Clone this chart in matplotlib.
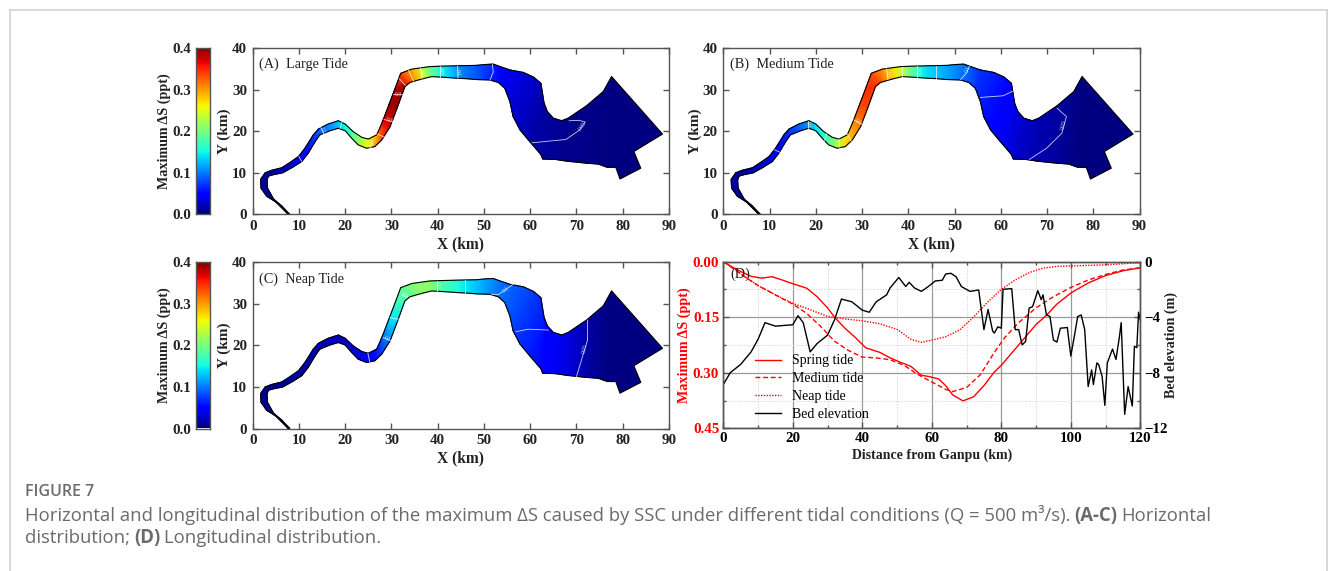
import numpy as np
import matplotlib
matplotlib.use("Agg")
import matplotlib.pyplot as plt
from matplotlib.lines import Line2D
from matplotlib.ticker import MultipleLocator

# cross sections along the river from the upstream tip, left bank and right bank (km)
left_x = [7.7, 5, 3, 1.8, 1.7, 2.7, 4.1, 6.3, 8.1, 9.9, 11.3, 13.1, 14.2, 16.3, 18.5, 20, 21.7, 23.6, 25, 26.8, 27.5,
          28.2, 29.5, 30.8, 32, 34.4, 36.3, 38.3, 40.5, 42.5, 44.1, 46.3, 48.4, 50.2, 52, 53.5, 55.6, 58.5, 60.7, 62.3,
          63, 63.7, 65, 66.8, 68.2, 72.2, 75.8, 77.6]
left_y = [0, 3, 4.4, 6.3, 8.4, 10, 10.6, 11.2, 12.5, 13.9, 15.9, 19.1, 20.5, 21.7, 22.5, 21.7, 19.9, 18.5, 18.1, 19.1,
          20.8, 22.7, 26.5, 30.3, 33.9, 34.9, 35.2, 35.5, 35.6, 35.65, 35.7, 35.75, 35.8, 36, 36.1, 35.5, 34.7, 34.1, 33,
          31.5, 26.7, 24.7, 23.1, 22.5, 23.1, 26.1, 29.5, 33.1]
right_x = [8, 6.3, 4.5, 3.2, 3.1, 3.4, 4.3, 6.5, 8.6, 10.6, 12, 13.5, 14.5, 16.7, 18.5, 20, 21.4, 22.8, 24.6, 26.4, 27.9,
           29.7, 31.3, 32.9, 34, 35.5, 37.2, 38.7, 40.5, 42.5, 44.4, 46.3, 48.4, 50, 51.3, 53.1, 54.5, 55.6, 56.3, 57.8,
           59.9, 62.3, 62.7, 65.5, 67.9, 72.2, 74.7, 76.7]
right_y = [0, 2, 3.7, 6.3, 8.3, 9.2, 9.5, 10, 11.3, 12.7, 14.7, 17.5, 19.1, 20.1, 20.7, 20.1, 18.3, 16.7, 15.9, 16.3,
           17.9, 21.1, 25.8, 30.7, 31.7, 32.2, 32.7, 33.1, 33, 32.85, 32.7, 32.6, 32.4, 32.35, 32.3, 31.7, 30.3, 27.1,
           23.5, 20.3, 17.5, 14.4, 13.3, 13.2, 12.8, 12.3, 12.1, 11.3]
# the sea end that the cross sections do not reach
sea_x = [88.6, 82.4, 83.9, 79.4, 78.5]
sea_y = [19.3, 15.1, 11.1, 8.5, 11.3]

# maximum dS at each cross section
ds_large = [.004, .006, .008, .01, .012, .014, .016, .02, .03, .045, .055, .07, .085, .105, .125, .15, .18, .22, .25,
            .29, .33, .365, .39, .385, .335, .29, .24, .19, .155, .13, .11, .095, .085, .075, .065, .05, .04, .032,
            .027, .022, .015, .012, .01, .008, .006, .004, .002, 0]
ds_medium = [.004, .005, .007, .009, .011, .013, .015, .018, .025, .035, .045, .06, .07, .09, .11, .14, .16, .19, .225,
             .27, .29, .31, .335, .345, .33, .3, .27, .24, .19, .155, .135, .125, .115, .105, .095, .085, .07, .062,
             .055, .05, .042, .032, .028, .022, .018, .012, .005, 0]
ds_neap = [.003, .004, .005, .006, .007, .008, .009, .01, .012, .014, .016, .018, .02, .022, .024, .026, .03, .035, .045,
           .055, .075, .1, .14, .17, .185, .2, .21, .205, .18, .165, .155, .14, .125, .115, .105, .095, .09, .082,
           .075, .068, .06, .05, .045, .04, .035, .015, .005, 0]

# contour lines: (label, x, y)
lines_large = [("0.05", [60.4, 67.7, 70.6, 71.9, 70.6, 68.4], [17.2, 18, 20.2, 22.2, 22.6, 22.5]),
               ("", [10, 10.6], [13.9, 12.7]), ("0.1", [14.7, 15.4], [20.9, 19.3]), ("", [19.3, 18.9], [22.2, 20.6]),
               ("0.2", [26, 25.4], [17.8, 16.1]), ("", [26.9, 28.6], [19.3, 18.5]), ("0.3", [28.4, 30.6], [22.8, 22.2]),
               ("0.3", [30.3, 32.6], [28.9, 28.9]), ("", [31.7, 33], [32.6, 31]), ("", [33.7, 34.8], [34.6, 32]),
               ("0.2", [36.3, 36.6], [35.2, 32.6]), ("0.2", [40.6, 40.6], [35.6, 33]), ("0.1", [44.3, 44.4], [35.7, 32.7]),
               ("", [51.8, 52, 51.3], [36.1, 34.2, 32.3])]
lines_medium = [("0.05", [72.2, 74.2, 73.2, 69.9, 66.2], [25.5, 23.5, 19.5, 15.9, 13.2]),
                ("", [55.6, 60.5, 62.6], [28.1, 28.5, 29.6]), ("0.1", [53.2, 52.6, 51.3], [35.6, 34, 32.4]),
                ("", [46.1, 46.1], [35.7, 32.6]), ("0.2", [41.9, 41.9], [35.6, 32.9]), ("", [38.7, 38.7], [35.5, 33.1]),
                ("0.3", [35.3, 35.6], [35, 32.4]), ("0.3", [28.2, 30.1], [22.7, 21.6]), ("", [26.8, 27.7], [19.3, 17.6]),
                ("", [25, 25.2], [18.1, 16]), ("", [22.4, 21.9], [19.4, 17.8]), ("0.1", [18.3, 18.3], [22.5, 20.7]),
                ("", [11.1, 12.3], [15.5, 14.9])]
lines_neap = [("0.05", [72.4, 72.4, 71.3, 70], [26.1, 21.3, 17.3, 12.5]), ("", [56.9, 59.6, 63.9], [23.3, 23.9, 23.7]),
              ("0.1", [56.4, 53.1, 51.6], [34.8, 32.2, 32.3]), ("", [46, 46], [35.7, 32.6]), ("0.2", [39.9, 39.9], [35.6, 33]),
              ("0.2", [32.2, 33.5], [32.1, 31.7]), ("", [29.7, 31.5], [26.7, 26.3]), ("0.1", [28.2, 30], [21.9, 21.1]),
              ("", [24.9, 25.3], [18.1, 16.1])]

# panel D
spring_x = [0, 2, 5, 8, 11, 14, 17, 20, 24, 27, 30, 32, 35, 38, 41, 45, 48, 51, 54, 57, 59, 62, 64, 66, 69, 72, 75, 78,
            80, 85, 90, 93, 96, 100, 105, 110, 115, 120]
spring_y = [0, .012, .027, .04, .045, .041, .05, .06, .072, .095, .125, .15, .18, .205, .233, .245, .26, .272, .283,
            .307, .31, .317, .335, .36, .376, .365, .335, .298, .28, .225, .17, .145, .115, .085, .058, .038, .025, .017]
medium_x = [0, 3, 6, 10, 15, 20, 24, 28, 32, 36, 40, 44, 48, 52, 56, 60, 64, 66, 70, 74, 78, 81, 85, 90, 95, 100, 105,
            110, 115, 120]
medium_y = [0, .02, .04, .065, .09, .115, .14, .175, .215, .24, .258, .26, .265, .28, .305, .325, .345, .351, .34, .305,
            .245, .205, .165, .125, .095, .07, .05, .035, .023, .017]
neap_x = [0, 3, 6, 10, 15, 20, 25, 30, 35, 40, 45, 50, 54, 57, 60, 64, 68, 72, 76, 80, 84, 88, 92, 96, 100, 110, 115, 120]
neap_y = [0, .018, .04, .065, .09, .113, .13, .148, .155, .16, .168, .183, .21, .218, .212, .203, .185, .15, .11, .075,
          .05, .03, .018, .013, .012, .009, .006, .003]
bed_x = [0, 2, 5, 8, 10, 12, 15, 20, 21.5, 23, 25, 27, 30, 32, 34, 37, 40, 42, 44, 47, 48, 50.5, 52.5, 53.5, 55, 57, 59,
         61, 63, 64, 65.5, 67, 68.5, 71, 73.5, 75, 76.2, 77.5, 78, 79, 80, 80.5, 83, 84, 85, 86, 87, 88, 89, 90.5, 91.5,
         92, 93, 94, 95, 96, 97, 99, 100, 101, 102, 103, 104, 105, 106, 106.5, 107.5, 108, 109, 109.8, 110.5, 112, 113,
         114, 114.5, 115.5, 116.5, 117.7, 118.3, 119, 119.5, 120]
bed_y = [-8.85, -8, -7.4, -6.5, -5.6, -4.4, -4.65, -4.55, -3.9, -4.4, -6.5, -5.9, -5.3, -4.2, -2.7, -2.9, -3.5, -3.65,
         -2.9, -2.4, -1.9, -1.15, -1.8, -1.5, -1.9, -2.15, -1.8, -1.4, -1.35, -.9, -.85, -1.1, -1.8, -2.15, -2.05, -4.9,
         -3.45, -5, -5.15, -4.7, -4.8, -2, -1.95, -4.9, -4.9, -6, -5.75, -3.35, -3.25, -2.1, -2.75, -2.4, -3.85, -3.95,
         -5.65, -5.8, -4.8, -4.75, -6.8, -5.4, -3.95, -3.85, -4.9, -9, -7.8, -8.85, -7.3, -7.4, -8.25, -10.35, -7.3,
         -6.3, -7.05, -5.4, -4.4, -11, -9, -10.4, -6.1, -6.2, -3.65, -4.2]

W, H = 1328, 571
SERIF = "Liberation Serif"
SANS = "Open Sans"
EDGE = "#555555"
INK = "#222222"
plt.rcParams["font.family"] = SERIF

fig = plt.figure(figsize=(W / 100, H / 100), dpi=100)


def px_axes(left, top, right, bottom):
    return fig.add_axes([left / W, 1 - bottom / H, (right - left) / W, (bottom - top) / H])


def style_box(ax):
    for s in ax.spines.values():
        s.set_color(EDGE)
        s.set_linewidth(1.0)


def draw_map(rect, name, values, lines):
    ax = px_axes(*rect)
    outline_x = left_x + sea_x + right_x[::-1]
    outline_y = left_y + sea_y + right_y[::-1]
    ax.fill(outline_x, outline_y, color=plt.cm.jet(0.0), lw=0, zorder=1)
    xx = np.array([left_x, right_x])
    yy = np.array([left_y, right_y])
    cc = np.array([values, values])
    ax.pcolormesh(xx, yy, cc, cmap="jet", vmin=0, vmax=0.4, shading="gouraud", zorder=2)
    ax.plot(outline_x + outline_x[:1], outline_y + outline_y[:1], color="black", lw=0.8, zorder=3)
    for label, lx, ly in lines:
        ax.plot(lx, ly, color="white", lw=0.6, alpha=0.8, zorder=4)
        if label:
            k = len(lx) // 2
            mx, my = (lx[k - 1] + lx[k]) / 2, (ly[k - 1] + ly[k]) / 2
            ang = np.degrees(np.arctan2((ly[k] - ly[k - 1]) * 4.16, (lx[k] - lx[k - 1]) * 4.63))
            ang = (ang + 90) % 180 - 90
            ax.text(mx, my, label, color="white", fontsize=4, ha="center", va="center", rotation=ang, alpha=0.85, zorder=5)
    ax.set_xlim(0, 90)
    ax.set_ylim(0, 40)
    ax.xaxis.set_major_locator(MultipleLocator(10))
    ax.yaxis.set_major_locator(MultipleLocator(10))
    ax.tick_params(direction="in", top=True, right=True, length=4, width=1, color=EDGE, labelsize=10.8, pad=4)
    for t in ax.get_xticklabels() + ax.get_yticklabels():
        t.set_fontweight("bold")
        t.set_color(INK)
    ax.set_xlabel("X (km)", fontsize=11.2, fontweight="bold", labelpad=2.5, color=INK)
    ax.set_ylabel("Y (km)", fontsize=11, fontweight="bold", labelpad=0.5, color=INK)
    ax.text(0.015, 0.9, name, transform=ax.transAxes, fontsize=10.3, va="center", color=INK)
    style_box(ax)
    return ax


def draw_cbar(rect):
    cax = px_axes(*rect)
    grad = np.linspace(0, 0.4, 256).reshape(-1, 1)
    cax.imshow(grad, cmap="jet", vmin=0, vmax=0.4, origin="lower", aspect="auto", extent=[0, 1, 0, 0.4])
    cax.set_xticks([])
    cax.set_yticks([0, 0.1, 0.2, 0.3, 0.4])
    cax.set_yticklabels(["0.0", "0.1", "0.2", "0.3", "0.4"], fontweight="bold", color=INK)
    cax.tick_params(length=0, labelsize=10.8, pad=3.4)
    cax.set_ylabel("Maximum ΔS (ppt)", fontsize=10.2, fontweight="bold", labelpad=0.8, color=INK)
    style_box(cax)


draw_cbar((195.7, 47.9, 210, 214.4))
draw_cbar((195.7, 262.3, 210, 428.5))
draw_map((252.7, 47.9, 669, 214.4), "(A)  Large Tide", ds_large, lines_large)
draw_map((723.3, 47.9, 1139.5, 214.4), "(B)  Medium Tide", ds_medium, lines_medium)
draw_map((252.7, 262.3, 669, 428.5), "(C)  Neap Tide", ds_neap, lines_neap)

# panel D
ax = px_axes(723.3, 261.5, 1140.3, 428.3)
ax.set_xlim(0, 120)
ax.set_ylim(0.45, 0)
ax.xaxis.set_major_locator(MultipleLocator(20))
ax.xaxis.set_minor_locator(MultipleLocator(10))
ax.yaxis.set_major_locator(MultipleLocator(0.15))
ax.yaxis.set_minor_locator(MultipleLocator(0.075))
ax.grid(which="major", color="#999999", lw=0.9)
ax.grid(which="minor", color="#cccccc", lw=0.7, ls=":")
ax.set_axisbelow(True)
l1, = ax.plot(spring_x, spring_y, color="red", lw=1.0, ls="-")
l2, = ax.plot(medium_x, medium_y, color="red", lw=1.0, ls=(0, (3.5, 2)))
l3, = ax.plot(neap_x, neap_y, color="red", lw=1.0, ls=(0, (1, 1)))
ax.tick_params(which="both", direction="in", top=True, length=4, width=1, color=EDGE, labelsize=10.8, pad=3)
ax.tick_params(which="minor", length=2)
ax.tick_params(axis="y", labelcolor="red")
ax.set_yticks([0, 0.15, 0.30, 0.45])
ax.set_yticklabels(["0.00", "0.15", "0.30", "0.45"])
for t in ax.get_xticklabels() + ax.get_yticklabels():
    t.set_fontweight("bold")
ax.set_xlabel("Distance from Ganpu (km)", fontsize=10, fontweight="bold", labelpad=2, color=INK)
ax.set_ylabel("Maximum ΔS (ppt)", fontsize=10.2, fontweight="bold", color="red", labelpad=1)
ax.text(0.016, 0.925, "(D)", transform=ax.transAxes, fontsize=10.3, va="center", color=INK)

ax2 = ax.twinx()
ax2.set_ylim(-12, 0)
l4, = ax2.plot(bed_x, bed_y, color="black", lw=1.0)
ax2.set_yticks([-12, -8, -4, 0])
ax2.yaxis.set_minor_locator(MultipleLocator(2))
ax2.tick_params(which="both", direction="in", length=4, width=1, color=EDGE, labelsize=10.8, pad=3)
ax2.tick_params(which="minor", length=2)
for t in ax2.get_yticklabels():
    t.set_fontweight("bold")
ax2.set_ylabel("Bed elevation (m)", fontsize=10.2, fontweight="bold", labelpad=-2.5, color=INK)
style_box(ax)
style_box(ax2)
ax2.legend([l1, l2, l3, l4], ["Spring tide", "Medium tide", "Neap tide", "Bed elevation"], loc="lower left",
           bbox_to_anchor=(0.076, 0.044), frameon=False, fontsize=10, handlelength=1.87, handletextpad=0.8,
           labelspacing=0.35, borderpad=0, borderaxespad=0)

# journal page furniture
GREY = "#6b6b6b"
FRAME = "#cfcfcf"
for xs, ys in [([10, 10], [9.5, H]), ([10, 1327], [9.5, 9.5]), ([1327, 1327], [9.5, H])]:
    fig.add_artist(Line2D([x / W for x in xs], [1 - y / H for y in ys], color=FRAME, lw=1.1))
fig.text(25 / W, 1 - 492.5 / H, "FIGURE 7", family=SANS, fontsize=11.5, color=GREY, va="center", weight="semibold")


def caption_line(x, y, parts):
    r = fig.canvas.get_renderer()
    for text, weight in parts:
        t = fig.text(x / W, 1 - y / H, text, family=SANS, fontsize=13.35, color=GREY, va="baseline", weight=weight)
        x = t.get_window_extent(r).x1 + 4


caption_line(25, 521, [("Horizontal and longitudinal distribution of the maximum ΔS caused by SSC under different tidal conditions (Q = 500 m³/s).", "normal"),
                       ("(A-C)", "bold"), ("Horizontal", "normal")])
caption_line(25, 543, [("distribution;", "normal"), ("(D)", "bold"), ("Longitudinal distribution.", "normal")])

fig.savefig("out.png", dpi=100)
